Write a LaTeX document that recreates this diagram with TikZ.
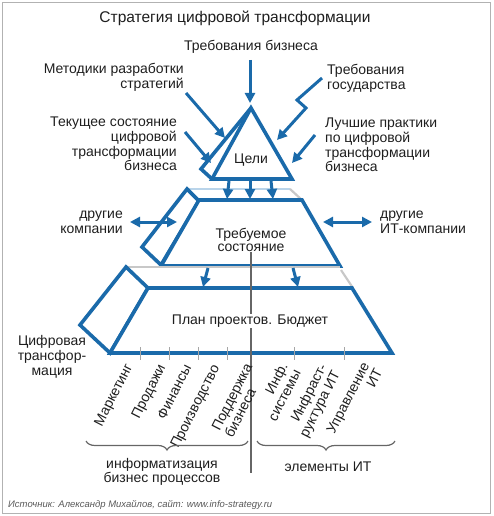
\documentclass[tikz,border=0pt]{standalone}
\usepackage{fontspec}
\setmainfont{Liberation Sans}
\usetikzlibrary{arrows.meta,decorations.pathreplacing}
\definecolor{bl}{RGB}{26,106,170}
\definecolor{txt}{RGB}{30,30,30}
\definecolor{lightbl}{RGB}{185,212,234}
\definecolor{lightgr}{RGB}{200,200,200}
\begin{document}
\begin{tikzpicture}[x=1pt,y=-1pt,
  shapeline/.style={draw=bl,line width=3.6pt,line join=miter,fill=white},
  arr/.style={draw=bl,line width=3pt,-{Triangle[length=10pt,width=10pt]}},
  darr/.style={draw=bl,line width=3pt,{Triangle[length=10pt,width=10pt]}-{Triangle[length=10pt,width=10pt]}},
  lbl/.style={font=\fontsize{14}{14.7}\selectfont,inner sep=0pt,text=txt},
  rot/.style={lbl,rotate=63,anchor=north east},
  tick/.style={draw=gray!70,line width=1pt},
  brc/.style={draw=gray!80!black,line width=1.2pt,decorate,decoration={brace,amplitude=9pt}},
  faint/.style={line width=2.2pt}
]
\useasboundingbox (0,0) rectangle (493,516);
\draw[gray!60,line width=0.8pt] (2.5,2.5) rectangle (490.5,513.5);

% title and labels
\node[lbl,font=\fontsize{15.5}{17}\selectfont] (title) at (235,18) {Стратегия цифровой трансформации};
\node[lbl] (treb) at (251,47) {Требования бизнеса};
\node[lbl,align=right,anchor=east] (metod) at (184,77.5) {Методики разработки\\стратегий};
\node[lbl,align=right,anchor=east] (tek) at (177,144) {Текущее состояние\\цифровой\\трансформации\\бизнеса};
\node[lbl,align=left,anchor=west] (gos) at (327,78) {Требования\\государства};
\node[lbl,align=left,anchor=west] (luch) at (325,145) {Лучшие практики\\по цифровой\\трансформации\\бизнеса};
\node[lbl,align=right,anchor=east] (drk) at (123,222) {другие\\компании};
\node[lbl,align=left,anchor=west] (drit) at (380,222) {другие\\ИТ-компании};
\node[lbl,align=center] (cifr) at (52,357) {Цифровая\\трансфор-\\мация};

% upper slab
\draw[lightbl,faint] (187,189) -- (290,189);
\draw[lightgr,faint] (290,189) -- (302,200);
\draw[shapeline] (187,189) -- (199,201) -- (161,265) -- (142,247) -- cycle;
\draw[shapeline] (199,200) -- (302,200) -- (340,266) -- (161,266) -- cycle;

% lower slab
\draw[lightgr,faint] (126,267) -- (340,267);
\draw[lightgr,faint] (341,270) -- (353,288);
\draw[shapeline] (126,267) -- (148,288) -- (110,353) -- (80,325) -- cycle;
\draw[shapeline] (148,288) -- (352,288) -- (392,353) -- (110,353) -- cycle;

% triangle
\draw[shapeline] (251,108) -- (201,169) -- (212,179);
\draw[shapeline] (251,108) -- (212,179) -- (292,179) -- cycle;

\node[lbl] (celi) at (251,160) {Цели};
\node[lbl,align=center,font=\fontsize{14}{13.5}\selectfont] (trs) at (251,240) {Требуемое\\состояние};

% vertical divider
\draw[gray!80!black,line width=1.2pt] (251,252) -- (251,473);
\node[lbl,fill=white,inner sep=1pt] (plan) at (250,321) {План проектов. Бюджет};

% ticks
\foreach \x in {140,169,198,227,294,344} \draw[tick] (\x,347) -- (\x,360);

% rotated labels
\node[rot] (l1) at (124,362) {Маркетинг};
\node[rot] (l2) at (157,363) {Продажи};
\node[rot] (l3) at (183,363) {Финансы};
\node[rot] (l4) at (211,363) {Производство};
\node[rot,align=left] (l5) at (244,362) {Поддержка\\бизнеса};
\node[rot,align=right] (l6) at (279,361) {Инф.\\системы};
\node[rot,align=right] (l7) at (318,362) {Инфраст-\\руктура ИТ};
\node[rot,align=right] (l8) at (361,361) {Управление\\ИТ};

% braces
\coordinate (b1a) at (86,441); \coordinate (b1b) at (248,441);
\coordinate (b2a) at (257,441); \coordinate (b2b) at (395,441);
\draw[brc,decoration={mirror}] (b1a) -- (b1b);
\draw[brc,decoration={mirror}] (b2a) -- (b2b);
\node[lbl,align=center,font=\fontsize{14}{13.6}\selectfont] (infb) at (162,472) {информатизация\\бизнес процессов};
\node[lbl] (elit) at (328,467) {элементы ИТ};

\node[lbl,anchor=west,font=\fontsize{9.5}{11}\itshape,text=gray!70!black] (src) at (8,505) {Источник: Александр Михайлов, сайт: www.info-strategy.ru};

% arrows into goals
\coordinate (a1s) at (250,60); \coordinate (a1e) at (250,103);
\draw[arr] (a1s) -- (a1e);
\coordinate (a2s) at (186,93); \coordinate (a2e) at (225,138);
\draw[arr] (a2s) -- (a2e);
\coordinate (a3s) at (185,132); \coordinate (a3e) at (211,163);
\draw[arr] (a3s) -- (a3e);
\coordinate (a4s) at (322,78); \coordinate (a4a) at (297,100); \coordinate (a4b) at (306,108); \coordinate (a4e) at (277,140);
\draw[arr,line join=miter] (a4s) -- (a4a) -- (a4b) -- (a4e);
\coordinate (a5s) at (315,135); \coordinate (a5e) at (292,163);
\draw[arr] (a5s) -- (a5e);

% arrows between levels
\foreach \xa/\xb [count=\i] in {229/227,250/250,271/273}
  {\draw[arr] (\xa,181) -- (\xb,199);}
\draw[arr] (208,268) -- (203,287);
\draw[arr] (293,268) -- (298,287);

% double arrows
\coordinate (d1a) at (130,222); \coordinate (d1b) at (177,222);
\draw[darr] (d1a) -- (d1b);
\coordinate (d2a) at (323,222); \coordinate (d2b) at (372,222);
\draw[darr] (d2a) -- (d2b);
\end{tikzpicture}
\end{document}
